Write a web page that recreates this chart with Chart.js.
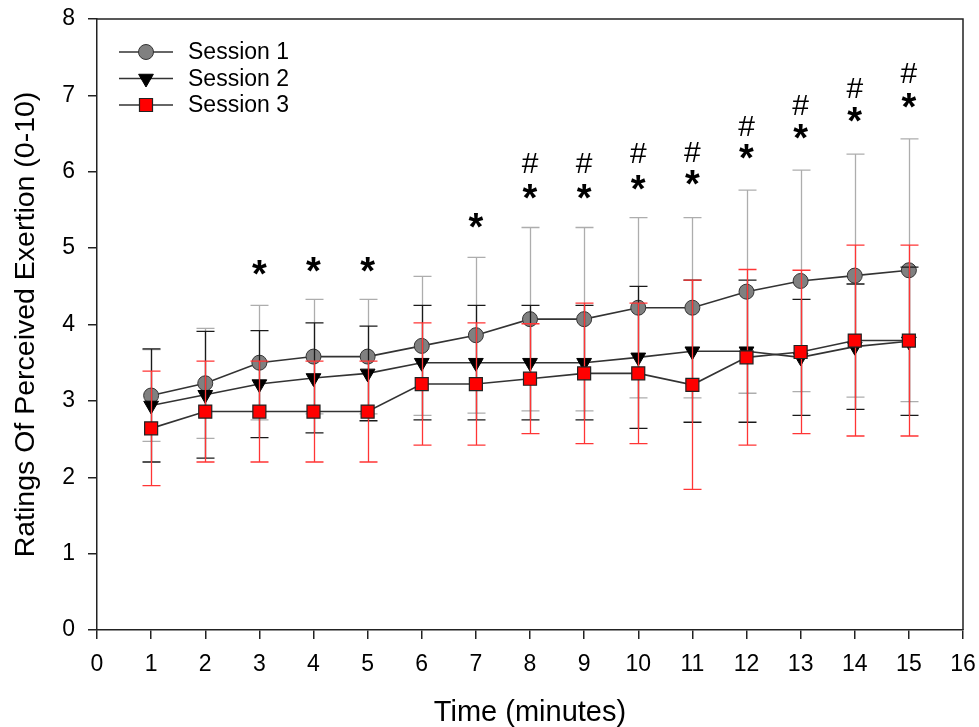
<!DOCTYPE html>
<html>
<head>
<meta charset="utf-8">
<script src="https://cdn.jsdelivr.net/npm/chart.js@4.4.1/dist/chart.umd.min.js"></script>
<style>
  html, body { margin:0; padding:0; background:#fff; }
  #wrap { width:979px; height:727px; }
</style>
</head>
<body>
<div id="wrap"><canvas id="rpe" width="979" height="727"></canvas></div>
<script>
// RPE per minute, mean and SD for the three sessions
const minutes = [1,2,3,4,5,6,7,8,9,10,11,12,13,14,15];
const s1Mean = [3.07,3.23,3.50,3.58,3.58,3.72,3.86,4.07,4.07,4.22,4.22,4.43,4.57,4.64,4.71];
const s1SD   = [0.60,0.72,0.75,0.75,0.75,0.91,1.02,1.20,1.20,1.18,1.18,1.33,1.45,1.59,1.72];
const s2Mean = [2.94,3.08,3.22,3.30,3.36,3.50,3.50,3.50,3.50,3.57,3.65,3.65,3.57,3.71,3.78];
const s2SD   = [0.74,0.83,0.70,0.72,0.62,0.75,0.75,0.75,0.75,0.93,0.93,0.93,0.76,0.82,0.97];
const s3Mean = [2.64,2.86,2.86,2.86,2.86,3.22,3.22,3.29,3.36,3.36,3.21,3.57,3.64,3.79,3.79];
const s3SD   = [0.75,0.66,0.66,0.66,0.66,0.80,0.80,0.72,0.92,0.92,1.37,1.15,1.07,1.25,1.25];

// significance marks (* and #), placed in data units
const starX = [3,4,5,7,8,9,10,11,12,13,14,15];
const starY = [4.75,4.79,4.79,5.36,5.74,5.74,5.86,5.92,6.26,6.53,6.75,6.93];
const hashX = [8,9,10,11,12,13,14,15];
const hashY = [6.11,6.11,6.24,6.26,6.60,6.88,7.10,7.29];

const FONT = '"Liberation Sans", Arial, sans-serif';
const AXIS = '#222';

const pts = (means) => minutes.map((m, i) => ({ x: m, y: means[i] }));

// draw each series' error bars just before its line/markers
const errorBars = {
  id: 'errorBars',
  beforeDatasetDraw(chart, args) {
    const ds = chart.data.datasets[args.index];
    if (!ds.sd) return;
    const { ctx, scales: { x, y } } = chart;
    ctx.save();
    ctx.strokeStyle = ds.barColor;
    ctx.lineWidth = 1.3;
    ds.data.forEach((p, i) => {
      const px = Math.round(x.getPixelForValue(p.x)) + 0.5;
      const top = y.getPixelForValue(p.y + ds.sd[i]);
      const bot = y.getPixelForValue(p.y - ds.sd[i]);
      ctx.beginPath();
      ctx.moveTo(px, top); ctx.lineTo(px, bot);
      ctx.moveTo(px - 9, top); ctx.lineTo(px + 9, top);
      ctx.moveTo(px - 9, bot); ctx.lineTo(px + 9, bot);
      ctx.stroke();
    });
    ctx.restore();
  }
};

// top and right sides of the box
const frame = {
  id: 'frame',
  beforeDatasetsDraw(chart) {
    const { ctx, chartArea: a } = chart;
    ctx.save();
    ctx.strokeStyle = AXIS;
    ctx.lineWidth = 1.5;
    ctx.beginPath();
    ctx.moveTo(a.left, a.top); ctx.lineTo(a.right, a.top); ctx.lineTo(a.right, a.bottom);
    ctx.stroke();
    ctx.restore();
  }
};

const sigMarks = {
  id: 'sigMarks',
  afterDatasetsDraw(chart) {
    const { ctx, scales: { x, y } } = chart;
    ctx.save();
    ctx.fillStyle = '#000';
    ctx.textAlign = 'center';
    ctx.textBaseline = 'alphabetic';
    const put = (txt, font, xs, ys) => {
      ctx.font = font;
      const m = ctx.measureText(txt);
      const shift = (m.actualBoundingBoxAscent - m.actualBoundingBoxDescent) / 2;
      xs.forEach((v, i) => ctx.fillText(txt, x.getPixelForValue(v), y.getPixelForValue(ys[i]) + shift));
    };
    put('*', 'bold 38px ' + FONT, starX, starY);
    put('#', '30px ' + FONT, hashX, hashY);
    ctx.restore();
  }
};

function marker(ctx, style, cx, cy, r) {
  ctx.beginPath();
  if (style === 'circle') {
    ctx.arc(cx, cy, r, 0, Math.PI * 2);
  } else if (style === 'triangle') {
    ctx.moveTo(cx - r * 0.866, cy - r * 0.5);
    ctx.lineTo(cx + r * 0.866, cy - r * 0.5);
    ctx.lineTo(cx, cy + r);
    ctx.closePath();
  } else {
    const h = r * Math.SQRT1_2;
    ctx.rect(cx - h, cy - h, 2 * h, 2 * h);
  }
  ctx.fill();
  ctx.stroke();
}

const legendBox = {
  id: 'legendBox',
  afterDraw(chart) {
    const { ctx, chartArea: a } = chart;
    ctx.save();
    chart.data.datasets.forEach((ds, i) => {
      const yy = a.top + 33 + i * 26.5;
      const x0 = a.left + 22;
      ctx.strokeStyle = ds.borderColor;
      ctx.lineWidth = 1.5;
      ctx.beginPath(); ctx.moveTo(x0, yy); ctx.lineTo(x0 + 54, yy); ctx.stroke();
      ctx.fillStyle = ds.pointBackgroundColor;
      ctx.strokeStyle = ds.pointBorderColor;
      ctx.lineWidth = ds.pointBorderWidth;
      marker(ctx, ds.legendStyle, x0 + 27, yy, ds.pointRadius);
      ctx.fillStyle = '#000';
      ctx.font = '23px ' + FONT;
      ctx.textAlign = 'left';
      ctx.textBaseline = 'middle';
      ctx.fillText(ds.label, x0 + 69, yy + 1);
    });
    ctx.restore();
  }
};

const tickFont = { family: FONT, size: 23 };

// keep the plot box where the original has it
function noPad(s) {
  s.paddingTop = 0; s.paddingBottom = 0; s.paddingLeft = 0; s.paddingRight = 0;
}

new Chart(document.getElementById('rpe'), {
  type: 'line',
  data: {
    datasets: [
      { label: 'Session 1', data: pts(s1Mean), sd: s1SD, barColor: '#adadad',
        borderColor: '#333', borderWidth: 1.6, tension: 0, fill: false,
        pointStyle: 'circle', legendStyle: 'circle', pointRadius: 7.5,
        pointBackgroundColor: '#808080', pointBorderColor: '#333', pointBorderWidth: 1, order: 3 },
      { label: 'Session 2', data: pts(s2Mean), sd: s2SD, barColor: '#1a1a1a',
        borderColor: '#333', borderWidth: 1.6, tension: 0, fill: false,
        pointStyle: 'triangle', pointRotation: 180, legendStyle: 'triangle', pointRadius: 8.5,
        pointBackgroundColor: '#000', pointBorderColor: '#000', pointBorderWidth: 1, order: 2 },
      { label: 'Session 3', data: pts(s3Mean), sd: s3SD, barColor: '#ff3535',
        borderColor: '#333', borderWidth: 1.6, tension: 0, fill: false,
        pointStyle: 'rect', legendStyle: 'rect', pointRadius: 9.2,
        pointBackgroundColor: '#ff0000', pointBorderColor: '#222', pointBorderWidth: 1.2, order: 1 }
    ]
  },
  options: {
    responsive: false,
    animation: false,
    events: [],
    layout: { padding: { top: 19, right: 16, left: 0, bottom: 0 } },
    plugins: { legend: { display: false }, tooltip: { enabled: false } },
    scales: {
      x: {
        type: 'linear', min: 0, max: 16,
        ticks: { stepSize: 1, font: tickFont, color: '#000', padding: 12 },
        grid: { drawOnChartArea: false, drawTicks: true, tickLength: 9, color: AXIS, lineWidth: 1.5 },
        border: { display: true, color: AXIS, width: 1.5 },
        title: { display: true, text: 'Time (minutes)', color: '#000',
                 font: { family: FONT, size: 29 }, padding: { top: 0, bottom: -3 } },
        afterFit(s) { s.height = 97; noPad(s); }
      },
      y: {
        min: 0, max: 8,
        ticks: { stepSize: 1, font: tickFont, color: '#000', padding: 13 },
        grid: { drawOnChartArea: false, drawTicks: true, tickLength: 9, color: AXIS, lineWidth: 1.5 },
        border: { display: true, color: AXIS, width: 1.5 },
        title: { display: true, text: 'Ratings Of Perceived Exertion (0-10)', color: '#000',
                 font: { family: FONT, size: 28.5 }, padding: { top: 9, bottom: 0 } },
        afterFit(s) { s.width = 97; noPad(s); }
      }
    }
  },
  plugins: [errorBars, frame, sigMarks, legendBox]
});
</script>
</body>
</html>
